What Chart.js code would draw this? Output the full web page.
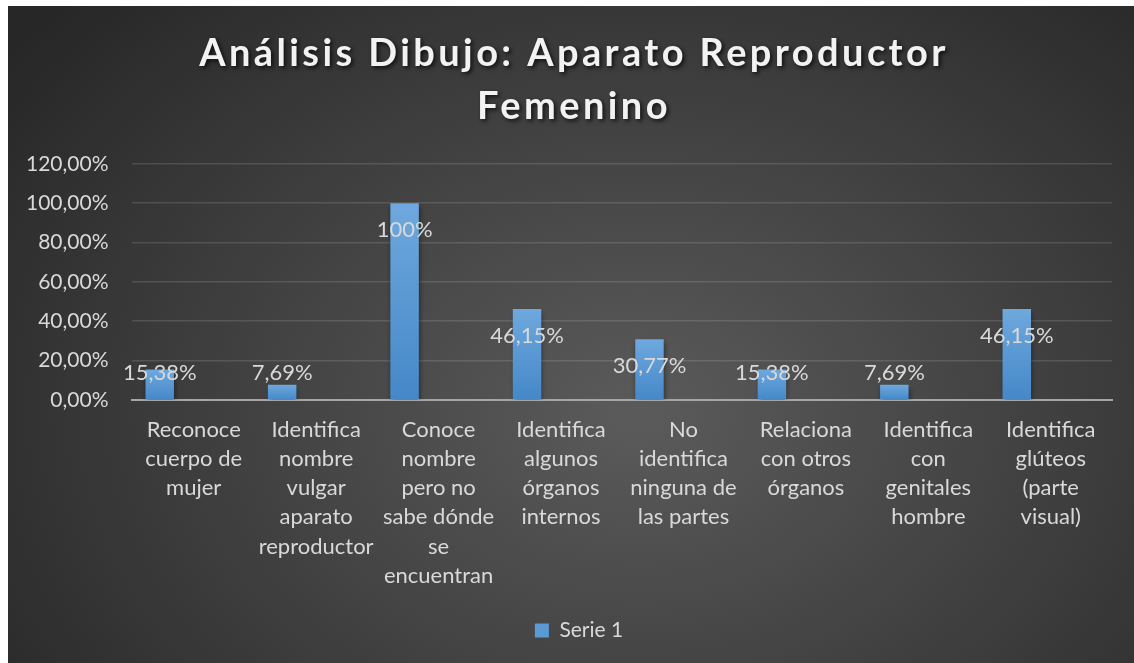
<!DOCTYPE html>
<html>
<head>
<meta charset="utf-8">
<script src="https://cdn.jsdelivr.net/npm/chart.js@4"></script>
<style>
  body { margin: 0; background: #ffffff; }
  #wrap { position: absolute; left: 8px; top: 6px; width: 1126px; height: 657px; }
</style>
</head>
<body>
<div id="wrap"><canvas id="chart"></canvas></div>
<script>
// categories (wrapped like the original)
const categories = [
  ["Reconoce", "cuerpo de", "mujer"],
  ["Identifica", "nombre", "vulgar", "aparato", "reproductor"],
  ["Conoce", "nombre", "pero no", "sabe dónde", "se", "encuentran"],
  ["Identifica", "algunos", "órganos", "internos"],
  ["No", "identifica", "ninguna de", "las partes"],
  ["Relaciona", "con otros", "órganos"],
  ["Identifica", "con", "genitales", "hombre"],
  ["Identifica", "glúteos", "(parte", "visual)"]
];
const serie1 = [15.38, 7.69, 100, 46.15, 30.77, 15.38, 7.69, 46.15];
const serie2 = [];  // empty series in the sheet, they still take a slot
const serie3 = [];
const yTicks = { min: 0, max: 120, step: 20 };

const titleLines = ["Análisis Dibujo: Aparato Reproductor", "Femenino"];
const FONT = "Lato, 'Open Sans', sans-serif";
const TXT = "#d9d9d9";

function pct(v) {
  return Number.isInteger(v) ? v + "%" : v.toFixed(2).replace(".", ",") + "%";
}

// per-bar vertical gradient
function barFill(ctx) {
  const chart = ctx.chart;
  const y = chart.scales.y;
  if (!y || ctx.parsed == null || ctx.parsed.y == null) return "#5b9bd5";
  const top = y.getPixelForValue(ctx.parsed.y);
  const base = y.getPixelForValue(0);
  if (!isFinite(top) || !isFinite(base) || top === base) return "#5b9bd5";
  const g = chart.ctx.createLinearGradient(0, top, 0, base);
  g.addColorStop(0, "#6ea8de");
  g.addColorStop(1, "#4588c8");
  return g;
}

const background = {
  id: "background",
  beforeDraw(chart) {
    const { ctx, width, height } = chart;
    ctx.save();
    const cx = width * 0.56, cy = height * 0.62;
    ctx.translate(cx, cy);
    ctx.scale(1, 0.75);
    const r = width * 0.7;
    const g = ctx.createRadialGradient(0, 0, 0, 0, 0, r);
    g.addColorStop(0, "#5b5b5b");
    g.addColorStop(1, "#272727");
    ctx.fillStyle = g;
    ctx.fillRect(-cx, -cy / 0.75, width, height / 0.75 + 10);
    ctx.restore();
  }
};

// title (letter spacing + shadow) and legend, centred on the whole canvas
function wrapDraw(chart, box, dx, extra) {
  if (!box || box._styled) return;
  const orig = box.draw.bind(box);
  box.draw = function () {
    const c = chart.ctx;
    c.save();
    c.translate(dx, 0);
    if (extra) extra(c);
    orig();
    c.restore();
  };
  box._styled = true;
}

const boxStyle = {
  id: "boxStyle",
  beforeDraw(chart) {
    wrapDraw(chart, chart.titleBlock, 17, (c) => {
      c.letterSpacing = "3.4px";
      c.shadowColor = "rgba(0,0,0,0.75)";
      c.shadowBlur = 4;
      c.shadowOffsetX = 2;
      c.shadowOffsetY = 2;
    });
    wrapDraw(chart, chart.legend, 22);
  }
};

const barLabels = {
  id: "barLabels",
  beforeDatasetsDraw(chart) {
    const c = chart.ctx;
    c.save();
    c.shadowColor = "rgba(0,0,0,0.45)";
    c.shadowBlur = 5;
    c.shadowOffsetX = 1;
    c.shadowOffsetY = 3;
  },
  afterDatasetsDraw(chart) {
    const c = chart.ctx;
    c.restore();
    const meta = chart.getDatasetMeta(0);
    c.save();
    c.font = "22px " + FONT;
    c.fillStyle = TXT;
    c.textAlign = "center";
    c.textBaseline = "middle";
    meta.data.forEach((bar, i) => {
      const y = Math.min(bar.y + 27, bar.base - 26);
      c.fillText(pct(serie1[i]), bar.x, y);
    });
    c.restore();
  }
};

new Chart(document.getElementById("chart"), {
  type: "bar",
  data: {
    labels: categories,
    datasets: [
      { label: "Serie 1", data: serie1, backgroundColor: barFill },
      { label: "Serie 2", data: serie2, backgroundColor: "#ed7d31" },
      { label: "Serie 3", data: serie3, backgroundColor: "#a5a5a5" }
    ]
  },
  options: {
    responsive: true,
    maintainAspectRatio: false,
    animation: false,
    categoryPercentage: 0.833,
    barPercentage: 0.838,
    layout: { padding: { left: -6, right: 22, bottom: 12, top: 0 } },
    plugins: {
      title: {
        display: true,
        text: titleLines,
        color: "#f2f2f2",
        font: { family: FONT, size: 38, weight: "bold", lineHeight: 1.38 },
        padding: { top: 22, bottom: 31 }
      },
      legend: {
        position: "bottom",
        labels: {
          color: TXT,
          font: { family: FONT, size: 21 },
          boxWidth: 14,
          boxHeight: 14,
          padding: 10,
          filter: (item) => item.datasetIndex === 0,
          generateLabels(chart) {
            const items = Chart.defaults.plugins.legend.labels.generateLabels(chart);
            items.forEach(it => { it.fillStyle = "#5b9bd5"; it.strokeStyle = "#5b9bd5"; it.lineWidth = 0; });
            return items;
          }
        }
      },
      tooltip: { enabled: false }
    },
    scales: {
      x: {
        grid: { display: false, drawTicks: false },
        border: { color: "#a6a6a6", width: 2 },
        ticks: {
          color: TXT,
          font: { family: FONT, size: 22, lineHeight: 1.32 },
          maxRotation: 0,
          autoSkip: false,
          padding: 16
        },
        afterFit(scale) { scale.height += 4; }
      },
      y: {
        min: yTicks.min,
        max: yTicks.max,
        grid: { color: "rgba(255,255,255,0.13)", lineWidth: 1.5, drawTicks: false },
        border: { display: false },
        ticks: {
          stepSize: yTicks.step,
          color: TXT,
          font: { family: FONT, size: 21 },
          padding: 24,
          callback: (v) => v.toFixed(2).replace(".", ",") + "%"
        }
      }
    }
  },
  plugins: [background, boxStyle, barLabels]
});
</script>
</body>
</html>
